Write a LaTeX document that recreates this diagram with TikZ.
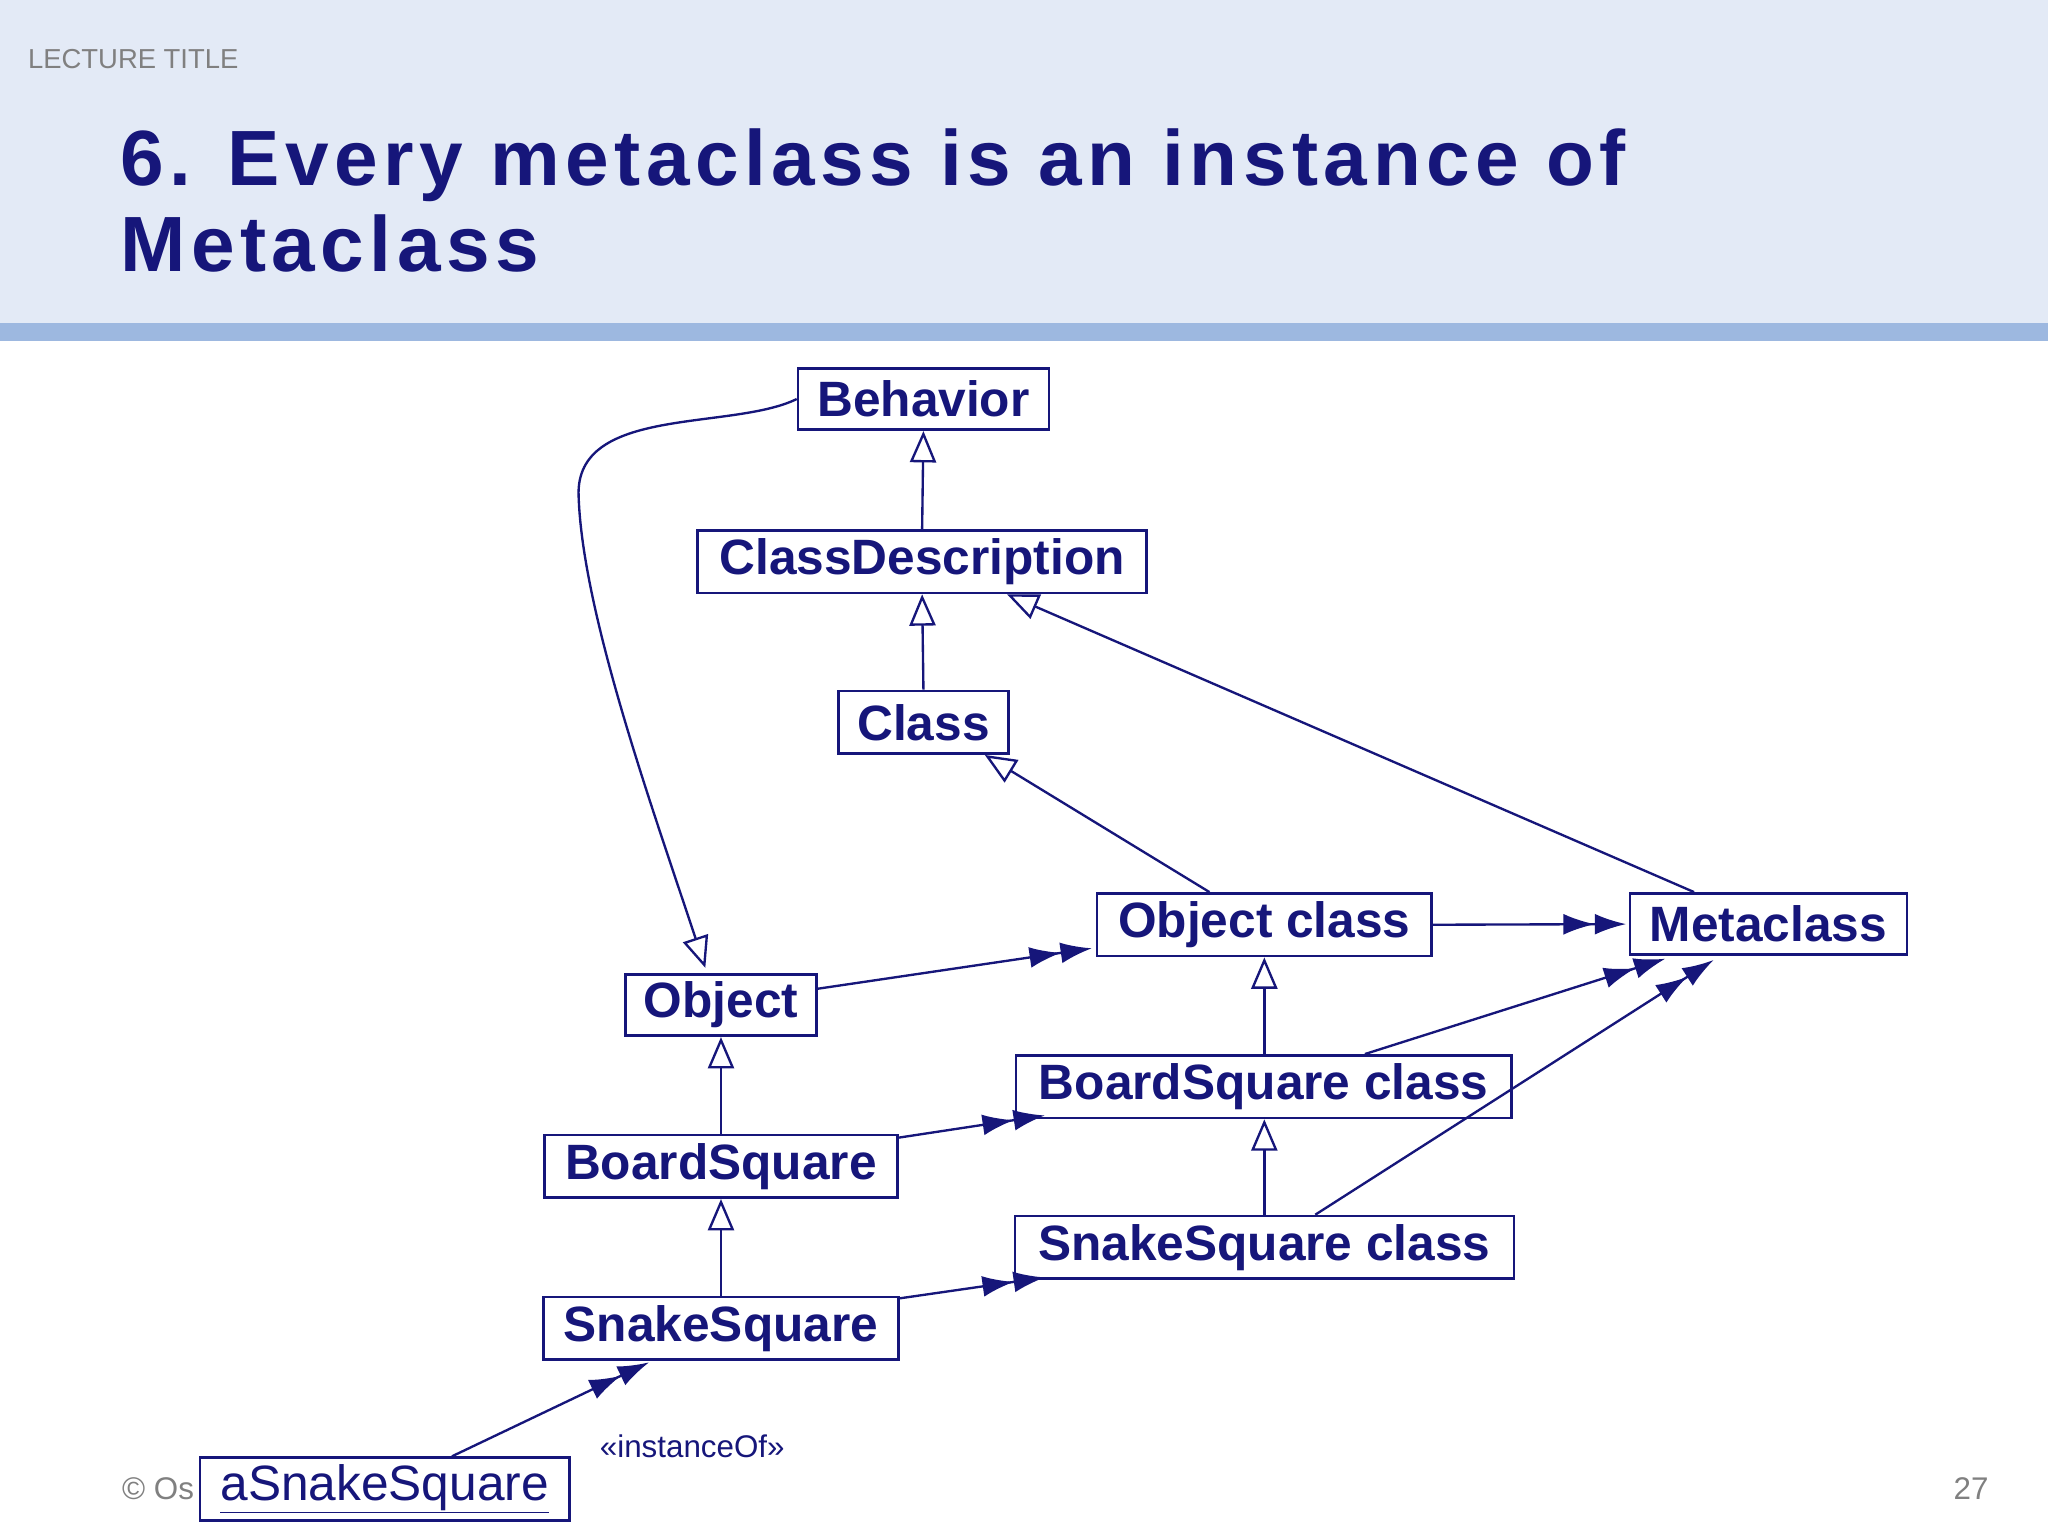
\documentclass[tikz,border=0pt]{standalone}
\usepackage{fontspec}
\setmainfont{Liberation Sans}
\usetikzlibrary{arrows.meta}
\definecolor{navy}{HTML}{16167A}
\definecolor{hdr}{HTML}{E3EAF6}
\definecolor{stripe}{HTML}{9DB8E0}
\tikzset{
 cls/.style={draw=navy,line width=2pt,fill=white,text=navy,font=\fontsize{38}{40}\selectfont\bfseries,inner sep=0pt,anchor=north west},
 inh/.style={draw=navy,line width=1.8pt,-{Triangle[open,length=24pt,width=20pt,fill=white]}},
 ins/.style={draw=navy,line width=1.8pt,-{Latex[length=24pt,width=16pt] Latex[length=24pt,width=16pt]}}
}
\begin{document}
\begin{tikzpicture}[x=1pt,y=-1pt]
\useasboundingbox (0,0) rectangle (1568,1176);
\fill[hdr] (0,0) rectangle (1568,247);
\fill[stripe] (0,247) rectangle (1568,261);
\node[anchor=west,text=gray,font=\fontsize{21}{21}\selectfont] (lt) at (18,45) {LECTURE TITLE};
\node[anchor=north west,text=navy,font=\fontsize{60}{66}\selectfont\bfseries\addfontfeatures{LetterSpace=7},align=left,inner sep=0pt] (tt) at (92,98) {6. Every metaclass is an instance of\\Metaclass};
\node[anchor=west,text=gray,font=\fontsize{24}{24}\selectfont] (cp) at (90,1140) {© Os};
\node[anchor=east,text=gray,font=\fontsize{24}{24}\selectfont] (pg) at (1526,1140) {27};

\newcommand{\mkbox}[6]{\node[cls,minimum width=#4-#2,minimum height=#5-#3] (#1) at (#2,#3) {#6};}
\mkbox{beh}{610}{281}{802}{328}{Behavior}
\mkbox{cd}{533}{405}{877}{453}{ClassDescription}
\mkbox{cl}{641}{528}{771}{576}{Class}
\mkbox{oc}{839}{683}{1095}{731}{Object class}
\mkbox{mc}{1247}{683}{1459}{730}{Metaclass}
\mkbox{ob}{478}{745}{624}{792}{Object}
\mkbox{bsc}{777}{807}{1156}{855}{BoardSquare class}
\mkbox{bs}{416}{868}{686}{916}{BoardSquare}
\mkbox{ssc}{776}{930}{1158}{978}{SnakeSquare class}
\mkbox{ss}{415}{992}{687}{1040}{SnakeSquare}
\node[cls,font=\fontsize{38}{40}\selectfont,minimum width=283,minimum height=48] (as) at (152,1115) {\underline{aSnakeSquare}};
\node[text=navy,font=\fontsize{24}{24}\selectfont] (lab) at (530,1107) {«instanceOf»};

\draw[inh] (cd.north) -- (beh.south);
\draw[inh] (cl.north) -- (cd.south);
\draw[inh] ([xshift=-42pt]oc.north) -- ([xshift=-19pt]cl.south east);
\draw[inh] ([xshift=50pt]mc.north west) -- ([xshift=-108pt]cd.south east);
\draw[inh] (beh.west) .. controls (560,330) and (440,310) .. (443,380) .. controls (446,470) and (500,620) .. ([xshift=-12pt,yshift=4pt]ob.north);
\draw[inh] (bsc.north -| oc.south) -- (oc.south);
\draw[inh] (ssc.north -| oc.south) -- (bsc.south -| oc.south);
\draw[inh] (bs.north) -- (ob.south);
\draw[inh] (ss.north) -- (bs.south);

\draw[ins] ([yshift=-12pt]ob.north east) -- ([xshift=-3pt,yshift=7pt]oc.south west);
\draw[ins] (oc.east) -- ([xshift=-2pt]mc.west);
\draw[ins] ([xshift=-113pt]bsc.north east) -- ([xshift=28pt,yshift=-2pt]mc.south west);
\draw[ins] ([xshift=-153pt]ssc.north east) -- ([xshift=65pt,yshift=-3pt]mc.south west);
\draw[ins] ([yshift=-3pt]bs.north east) -- ([xshift=23pt,yshift=3pt]bsc.south west);
\draw[ins] ([yshift=-2pt]ss.north east) -- ([xshift=24pt,yshift=2pt]ssc.south west);
\draw[ins] ([xshift=-91pt]as.north east) -- ([xshift=82pt,yshift=-1pt]ss.south west);
\end{tikzpicture}
\end{document}
